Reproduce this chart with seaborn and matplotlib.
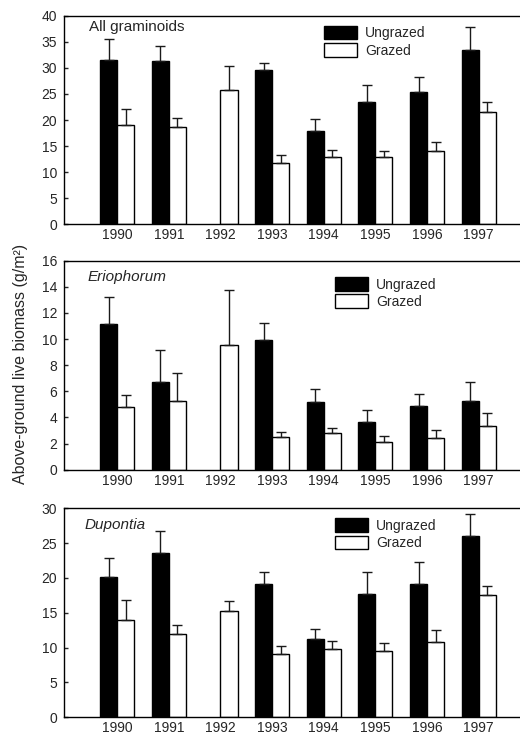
import numpy as np
import pandas as pd
import matplotlib
matplotlib.use("Agg")
import matplotlib.pyplot as plt
import seaborn as sns
from matplotlib.patches import Patch

sns.set_theme(style="ticks")
plt.rcParams["font.family"] = ["Liberation Sans", "DejaVu Sans"]

years = ["1990", "1991", "1992", "1993", "1994", "1995", "1996", "1997"]
treatments = ["Ungrazed", "Grazed"]

# All graminoids (g/m2): means and standard errors
gram_ungrazed = [31.5, 31.3, np.nan, 29.5, 17.8, 23.4, 25.3, 33.4]
gram_ungrazed_se = [4.1, 2.8, np.nan, 1.5, 2.3, 3.3, 3.0, 4.4]
gram_grazed = [19.1, 18.6, 25.7, 11.7, 12.9, 12.9, 14.1, 21.5]
gram_grazed_se = [3.1, 1.7, 4.7, 1.5, 1.3, 1.2, 1.7, 1.9]

# Eriophorum
erio_ungrazed = [11.15, 6.69, np.nan, 9.93, 5.2, 3.62, 4.9, 5.28]
erio_ungrazed_se = [2.09, 2.44, np.nan, 1.27, 0.98, 0.95, 0.92, 1.46]
erio_grazed = [4.82, 5.28, 9.57, 2.5, 2.78, 2.12, 2.45, 3.32]
erio_grazed_se = [0.87, 2.15, 4.18, 0.41, 0.44, 0.48, 0.56, 1.04]

# Dupontia
dup_ungrazed = [20.1, 23.6, np.nan, 19.2, 11.2, 17.7, 19.1, 26.0]
dup_ungrazed_se = [2.8, 3.1, np.nan, 1.6, 1.5, 3.1, 3.2, 3.2]
dup_grazed = [14.0, 12.0, 15.3, 9.1, 9.8, 9.5, 10.8, 17.6]
dup_grazed_se = [2.8, 1.2, 1.4, 1.2, 1.2, 1.1, 1.8, 1.3]

panels = [
    ("All graminoids", "normal", gram_ungrazed, gram_ungrazed_se, gram_grazed, gram_grazed_se,
     40, 5, (0.570, 0.952), (0.054, 0.927)),
    ("Eriophorum", "italic", erio_ungrazed, erio_ungrazed_se, erio_grazed, erio_grazed_se,
     16, 2, (0.594, 0.922), (0.051, 0.904)),
    ("Dupontia", "italic", dup_ungrazed, dup_ungrazed_se, dup_grazed, dup_grazed_se,
     30, 5, (0.594, 0.952), (0.046, 0.902)),
]

W, H = 520, 742
fig = plt.figure(figsize=(W / 100, H / 100), dpi=100)

# axes boxes in pixels: (top, bottom)
boxes = [(15.7, 224.3), (260.7, 469.7), (508.3, 717.3)]
left_px, right_px = 64, 520

for (title, style, ung, ung_se, gra, gra_se, ymax, ystep, leg_xy, title_xy), (top, bot) in zip(panels, boxes):
    ax = fig.add_axes([left_px / W, 1 - bot / H, (right_px - left_px) / W, (bot - top) / H])
    df = pd.DataFrame({
        "year": years * 2,
        "treatment": ["Ungrazed"] * len(years) + ["Grazed"] * len(years),
        "biomass": list(ung) + list(gra),
    })
    sns.barplot(data=df, x="year", y="biomass", hue="treatment", order=years,
                hue_order=treatments, palette={"Ungrazed": "black", "Grazed": "white"},
                edgecolor="black", linewidth=1.0, width=0.66, errorbar=None,
                legend=False, ax=ax)

    # upper error bars at the centre of each drawn bar (category found from bar position)
    for container, means, ses in zip(ax.containers, [ung, gra], [ung_se, gra_se]):
        for bar in container.patches:
            xc = bar.get_x() + bar.get_width() / 2
            i = int(round(xc))
            m, s = means[i], ses[i]
            if np.isnan(m):
                continue
            ax.errorbar(xc, m, yerr=[[0], [s]], fmt="none", ecolor="#1a1a1a",
                        elinewidth=1.0, capsize=3.6, capthick=1.0, zorder=1)

    ax.set_xlim(-1.03, 7.8)
    ax.set_ylim(0, ymax)
    ax.set_yticks(np.arange(0, ymax + ystep / 2, ystep))
    ax.set_xlabel("")
    ax.set_ylabel("")
    ax.tick_params(axis="y", direction="in", length=3, width=1, pad=5, labelsize=10)
    ax.tick_params(axis="x", length=0, pad=3, labelsize=10)
    for side in ["left", "bottom", "top"]:
        ax.spines[side].set_linewidth(1.0)
        ax.spines[side].set_color("black")
    ax.spines["right"].set_visible(False)

    ax.text(title_xy[0], title_xy[1], title, transform=ax.transAxes, fontsize=11,
            fontstyle=style, ha="left", va="baseline")

    handles = [Patch(facecolor="black", edgecolor="black", linewidth=1.0),
               Patch(facecolor="white", edgecolor="black", linewidth=1.0)]
    ax.legend(handles, treatments, loc="upper left", bbox_to_anchor=leg_xy,
              frameon=False, fontsize=10, handlelength=2.4, handleheight=1.15,
              handletextpad=0.55, labelspacing=0.2, borderpad=0, borderaxespad=0)

fig.text(21 / W, 1 - 364 / H, "Above-ground live biomass (g/m²)", rotation=90,
         ha="center", va="center", fontsize=11.5)

fig.savefig("out.png", dpi=100)
